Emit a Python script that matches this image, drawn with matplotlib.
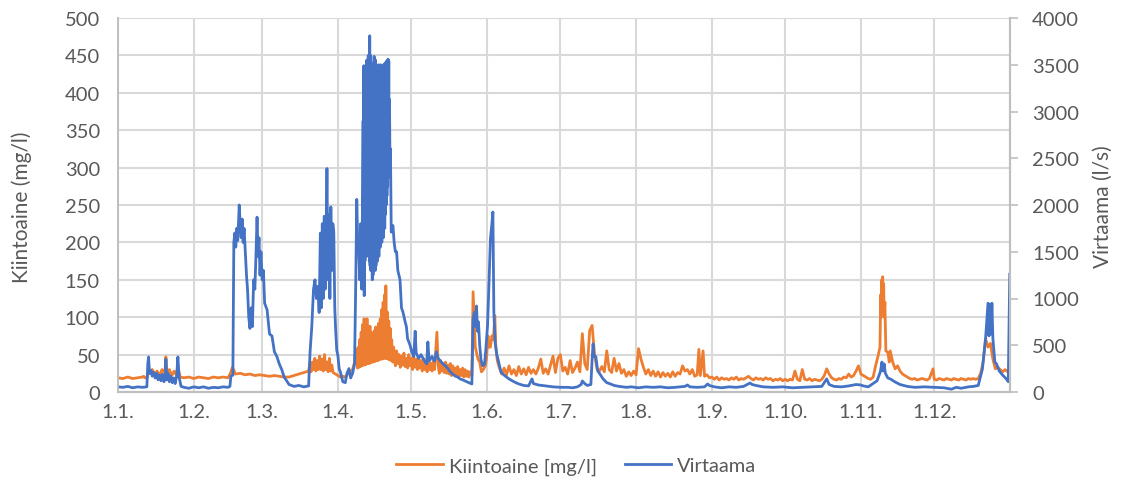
import matplotlib
matplotlib.use("Agg")
import matplotlib.pyplot as plt

# Day of year (0 = 1 January) at which each month starts, and its axis label
month_start_day = [0, 31, 59, 90, 120, 151, 181, 212, 243, 273, 304, 334]
month_labels = ['1.1.', '1.2.', '1.3.', '1.4.', '1.5.', '1.6.',
                '1.7.', '1.8.', '1.9.', '1.10.', '1.11.', '1.12.']

# Flow (l/s) as (day of year, value)
virtaama = [
    (0, 55), (2, 50), (4, 60), (6, 45), (8, 55), (10, 50), (11.8, 55),
    (12.2, 300), (12.5, 375), (12.9, 200), (13.5, 230), (14, 170), (14.6, 210),
    (15.2, 150), (15.8, 200), (16.4, 130), (17, 180), (17.6, 120), (18.2, 190),
    (18.8, 110), (19.4, 150), (19.6, 350), (19.9, 130), (20.5, 200), (21, 110),
    (21.6, 170), (22.2, 100), (22.8, 150), (23.4, 90), (24, 170), (24.5, 375),
    (25, 160), (25.8, 60), (27, 50), (29, 40), (31, 55), (33, 45), (35, 55),
    (37, 40), (39, 50), (41, 45), (43, 55), (45, 50), (45.8, 60), (46.2, 170),
    (47, 180), (47.4, 1600), (47.8, 1700), (48.2, 1550), (48.6, 1750), (49, 1620),
    (49.6, 2000), (50, 1800), (50.4, 1650), (50.8, 1850), (51.2, 1600),
    (51.6, 1750), (52, 1550), (52.6, 1240), (53, 1100), (53.5, 800), (54, 680),
    (54.5, 900), (55, 700), (55.5, 1200), (56, 1100), (56.5, 1500), (56.9, 1870),
    (57.3, 1450), (57.7, 1650), (58.1, 1250), (58.5, 1500), (59, 1200),
    (59.5, 1300), (60, 950), (61, 880), (62, 620), (63, 600), (64, 430),
    (65, 380), (66, 300), (67, 240), (68, 160), (69, 120), (70, 80), (72, 60),
    (74, 70), (76, 55), (78, 65), (78.6, 430), (79.3, 700), (80, 1100),
    (80.6, 1200), (81.2, 1000), (81.8, 1130), (82.3, 850), (82.8, 1700),
    (83.2, 900), (83.6, 1800), (84, 1000), (84.4, 1880), (84.8, 1100),
    (85.2, 1700), (85.5, 2390), (85.9, 1200), (86.3, 1900), (86.7, 1000),
    (87.1, 1980), (87.5, 1300), (87.9, 1800), (88.3, 1710), (88.7, 900),
    (89, 700), (89.5, 450), (90, 385), (90.5, 250), (91, 214), (92, 110),
    (93, 100), (93.7, 200), (94.5, 250), (95.2, 150), (96, 200), (96.8, 300),
    (97.3, 1200), (97.7, 2060), (98.1, 1600), (98.5, 1530), (98.9, 1200),
    (99.3, 1800), (99.7, 1100), (100.1, 2200),
    (100.3, 2900), (100.45, 1100), (100.6, 3490), (100.75, 1030), (100.9, 3200),
    (101.05, 1400), (101.2, 3400), (101.35, 1500), (101.5, 3300), (101.65, 1450),
    (101.8, 3550), (101.95, 1600), (102.1, 3350), (102.25, 1500), (102.4, 3600),
    (102.55, 1700), (102.7, 3500), (102.85, 1400), (103.0, 3810), (103.15, 1350),
    (103.3, 3600), (103.45, 1300), (103.6, 3500), (103.75, 1500), (103.9, 3450),
    (104.05, 1200), (104.2, 3400), (104.35, 1250), (104.5, 3520), (104.65, 1400),
    (104.8, 3590), (104.95, 1450), (105.1, 3480), (105.25, 1300), (105.4, 3550),
    (105.55, 1350), (105.7, 3400), (105.85, 1500), (106.0, 3350), (106.15, 1400),
    (106.3, 3450), (106.45, 1550), (106.6, 3500), (106.75, 1450), (106.9, 3420),
    (107.05, 1600), (107.2, 3480), (107.35, 1550), (107.5, 3500), (107.65, 1650),
    (107.8, 3450), (107.95, 1600), (108.1, 3420), (108.25, 1700), (108.4, 3480),
    (108.55, 1650), (108.7, 3500), (108.85, 1800), (109.0, 3480), (109.15, 1750),
    (109.3, 3520), (109.45, 1900), (109.6, 3500), (109.75, 2000), (109.9, 3540),
    (110.05, 2100), (110.2, 3500), (110.35, 2200), (110.5, 3560), (110.65, 2310),
    (110.8, 3540), (110.95, 2300), (111.1, 3130), (111.3, 2400), (111.5, 2600),
    (111.8, 1710), (112.5, 1780), (113, 1600), (113.5, 1500), (114, 1500),
    (114.5, 1300), (115.4, 1200), (116, 900), (116.6, 855), (117.5, 750),
    (118, 700), (118.5, 570), (119.5, 500), (120.2, 430), (121, 380), (121.6, 650),
    (122, 420), (123, 360), (124, 400), (125, 350), (126.3, 300), (126.8, 535),
    (127.3, 330), (128.5, 380), (129.5, 330), (130.3, 430), (131, 360),
    (132, 330), (133, 300), (134, 280), (135, 250), (136, 214), (137, 190),
    (138, 170), (139, 160), (140, 140), (141, 130), (142, 118), (143, 105),
    (144, 95), (144.8, 86), (145.3, 780), (145.8, 850), (146.2, 700),
    (146.7, 920), (147.1, 650), (147.5, 750), (148, 500), (148.5, 350),
    (149.2, 280), (150, 300), (150.5, 450), (151.2, 705), (151.6, 1000),
    (152.4, 1640), (153, 1800), (153.4, 1925), (153.8, 855), (154.3, 535),
    (155, 400), (155.5, 350), (156.7, 214), (158, 180), (160, 140), (162, 110),
    (164, 86), (166, 70), (168, 65), (169.4, 140), (170, 90), (172, 75),
    (175, 65), (178, 55), (181, 50), (184, 50), (186, 45), (188, 55),
    (189.5, 80), (190, 118), (191, 90), (192, 70), (193.5, 80), (194, 350),
    (194.4, 515), (194.8, 380), (195.5, 380), (196.3, 225), (197, 200),
    (198.5, 140), (200, 100), (201.5, 86), (203, 70), (205, 60), (208, 50),
    (210, 55), (213, 45), (216, 55), (219, 50), (222, 55), (225, 45), (228, 50),
    (230, 55), (232, 60), (233, 75), (234, 55), (237, 50), (240, 55),
    (241.3, 86), (242, 70), (244, 55), (247, 45), (250, 55), (253, 50),
    (256, 60), (258.6, 96), (259.5, 80), (261, 70), (264, 55), (268, 50),
    (272, 55), (276, 45), (280, 50), (284, 55), (288, 60), (290, 140), (291, 80),
    (293, 60), (296, 55), (299, 65), (302, 80), (304, 75), (305, 65), (307, 55),
    (310.6, 120), (312, 220), (312.6, 320), (313, 225), (313.5, 300), (314, 200),
    (315, 150), (316, 140), (318, 107), (320, 80), (323, 60), (326, 50),
    (330, 55), (334, 50), (338, 45), (341, 30), (343, 50), (345, 40), (348, 55),
    (350, 60), (352, 70), (353.7, 245), (355, 570), (356, 950), (356.4, 600),
    (356.8, 940), (357.2, 620), (357.6, 950), (358, 570), (358.8, 320),
    (359.5, 300), (360.6, 225), (362, 180), (363.5, 140), (364.3, 110),
    (364.9, 1260),
]

# Suspended solids (mg/l) as (day of year, value)
kiintoaine = [
    (0, 19), (2, 18), (4, 20), (6, 18), (8, 19), (10, 20), (10.5, 21), (11, 19),
    (12, 20), (12.5, 28), (13, 25), (14, 30), (15, 24), (16, 28), (17, 22),
    (18, 30), (19.2, 25), (19.6, 47), (20, 25), (21, 30), (22, 22), (23, 28),
    (24, 22), (24.5, 32), (25.5, 20), (27, 19), (29, 20), (31, 18), (33, 20),
    (35, 19), (37, 18), (39, 20), (41, 19), (43, 20), (45, 19), (46, 25),
    (46.8, 33), (47.3, 30), (48, 24), (50, 25), (52, 23), (54, 24), (56, 22),
    (58, 23), (60, 22), (62, 21), (64, 22), (66, 21), (68, 20), (70, 20),
    (72, 22), (74, 24), (76, 26), (78, 28), (78.5, 38), (79, 27), (79.5, 40),
    (80, 30), (80.5, 45), (81, 28), (81.5, 42), (82, 30), (82.5, 48), (83, 30),
    (83.5, 44), (84, 28), (84.5, 50), (85, 30), (85.5, 40), (86, 27),
    (86.5, 45), (87, 28), (87.5, 36), (88, 26), (89, 24), (90, 22), (91, 20),
    (92, 21), (93, 20), (94, 24), (95, 27), (96, 30), (96.8, 40), (97.3, 57),
    (97.7, 40), (98, 32), (98.3, 60), (98.6, 33), (98.9, 70), (99.2, 34),
    (99.5, 80), (99.8, 35), (100.1, 90), (100.4, 36), (100.7, 98), (101, 36),
    (101.3, 92), (101.6, 37), (101.9, 98), (102.2, 38), (102.5, 85), (102.8, 38),
    (103.1, 88), (103.4, 39), (103.7, 80), (104, 40), (104.3, 75), (104.6, 40),
    (104.9, 82), (105.2, 41), (105.5, 87), (105.8, 42), (106.1, 85), (106.4, 42),
    (106.7, 92), (107, 43), (107.3, 98), (107.6, 44), (107.9, 110), (108.2, 44),
    (108.5, 120), (108.8, 45), (109.1, 130), (109.4, 45), (109.6, 142),
    (109.9, 45), (110.2, 107), (110.5, 44), (110.8, 95), (111.1, 43), (111.4, 85),
    (111.7, 42), (112, 70), (112.4, 40), (112.8, 60), (113, 50), (113.5, 35),
    (114, 55), (114.5, 38), (115, 50), (115.5, 33), (116, 48), (116.5, 36),
    (117, 52), (117.5, 34), (118, 45), (118.5, 32), (119, 50), (119.5, 35),
    (120, 45), (120.5, 30), (121, 48), (121.5, 33), (122, 44), (122.5, 30),
    (123, 46), (123.5, 32), (124, 42), (124.5, 28), (125, 45), (125.5, 30),
    (126, 40), (126.5, 27), (127, 44), (127.5, 30), (128, 38), (128.5, 28),
    (129, 42), (129.5, 30), (130.5, 80), (131, 35), (131.5, 25), (132, 42),
    (132.5, 28), (133, 38), (133.5, 26), (134, 40), (134.5, 25), (135, 36),
    (135.5, 24), (136, 38), (136.5, 22), (137, 35), (137.5, 24), (138, 32),
    (138.5, 22), (139, 34), (139.5, 21), (140, 30), (140.5, 22), (141, 32),
    (141.5, 20), (142, 30), (142.5, 21), (143, 28), (143.5, 20), (144, 27),
    (144.8, 22), (145.3, 134), (145.7, 100), (146.2, 60), (146.7, 53),
    (147.3, 44), (148, 40), (148.7, 27), (149.5, 30), (150.3, 35), (150.8, 45),
    (151.4, 75), (151.8, 60), (152.4, 60), (153, 75), (153.6, 70), (154.2, 102),
    (154.6, 60), (155.2, 42), (156, 33), (157, 24), (158, 32), (159, 23),
    (160, 35), (161, 24), (162, 30), (163, 22), (164, 34), (165, 24), (166, 31),
    (167, 23), (168, 33), (169, 25), (170, 30), (171, 24), (172, 32), (173, 44),
    (174, 25), (175, 31), (176, 24), (177, 36), (178, 48), (179, 26), (180, 45),
    (181, 50), (182, 28), (183, 33), (184, 24), (185, 42), (186, 26), (187, 32),
    (188, 40), (189, 27), (190, 78), (191, 38), (192, 30), (193, 82), (194, 89),
    (195, 50), (196, 31), (197, 28), (198, 34), (199, 27), (200, 55), (201, 30),
    (202, 26), (203, 45), (204, 28), (205, 38), (206, 25), (207, 30), (208, 21),
    (209, 27), (210, 22), (211, 28), (212, 23), (213, 58), (214, 44), (215, 33),
    (216, 24), (217, 30), (218, 22), (219, 28), (220, 21), (221, 27), (222, 20),
    (223, 26), (224, 21), (225, 25), (226, 20), (227, 27), (228, 21), (229, 26),
    (230, 24), (231, 35), (232, 28), (233, 30), (234, 24), (235, 30), (236, 21),
    (237, 23), (237.7, 57), (238.3, 22), (239.4, 55), (240, 21), (241, 23),
    (242, 19), (243, 20), (244, 17), (245, 20), (246, 16), (247, 19), (248, 17),
    (249, 18), (250, 16), (251, 19), (252, 17), (253, 20), (254, 16), (255, 18),
    (256, 17), (257, 19), (258, 21), (259, 18), (260, 16), (261, 19), (262, 17),
    (263, 18), (264, 16), (265, 19), (266, 17), (267, 18), (268, 15), (269, 17),
    (270, 16), (271, 18), (272, 15), (273, 17), (274, 15), (275, 17), (276, 16),
    (277, 28), (278, 17), (279, 15), (280, 30), (281, 17), (282, 16), (283, 18),
    (284, 15), (285, 17), (286, 16), (287, 15), (288, 17), (289, 22), (290, 31),
    (291, 24), (292, 19), (293, 17), (294, 16), (295, 18), (296, 17), (297, 20),
    (298, 19), (299, 24), (300, 20), (301, 22), (302, 28), (303, 35), (304, 24),
    (305, 22), (306, 20), (307, 18), (308, 17), (309, 20), (310, 35), (311, 48),
    (311.8, 60), (312.1, 130), (312.3, 100), (312.5, 150), (312.7, 105),
    (312.9, 154), (313.1, 110), (313.3, 145), (313.5, 100), (313.8, 120),
    (314.2, 55), (315, 53), (315.6, 40), (316, 55), (317, 40), (318, 31),
    (319, 35), (320, 28), (321, 24), (322, 22), (323, 20), (324, 18), (325, 17),
    (326, 18), (327, 16), (328, 17), (329, 18), (330, 17), (331, 16), (332, 18),
    (333.5, 31), (334, 17), (335, 16), (336, 18), (337, 17), (338, 16),
    (339, 18), (340, 17), (341, 16), (342, 18), (343, 17), (344, 16), (345, 18),
    (346, 17), (347, 16), (348, 18), (349, 17), (350, 18), (351, 17), (352, 18),
    (353, 25), (354, 40), (355, 71), (356, 60), (357, 65), (358, 44), (359, 31),
    (360, 33), (361, 30), (362, 27), (363, 30), (364, 27), (364.9, 30),
]

ORANGE = '#ED7D31'
BLUE = '#4472C4'
TEXT = '#595959'
GRID = '#d9d9d9'
SPINE = '#bfbfbf'

plt.rcParams['font.family'] = ['Lato', 'DejaVu Sans']

k_day, k_val = zip(*kiintoaine)
v_day, v_val = zip(*virtaama)

fig = plt.figure(figsize=(11.46, 4.81), dpi=100)
ax = fig.add_axes([118 / 1146, 1 - 393 / 481, (1010 - 118) / 1146, (393 - 19) / 481])
ax2 = ax.twinx()

line_k, = ax.plot(k_day, k_val, color=ORANGE, lw=2.0, label='Kiintoaine [mg/l]')
line_v, = ax2.plot(v_day, v_val, color=BLUE, lw=2.0, label='Virtaama')

ax.set_xlim(0, 365)
ax.set_ylim(0, 500)
ax2.set_ylim(0, 4000)
ax.set_yticks(range(0, 501, 50))
ax2.set_yticks(range(0, 4001, 500))
ax.set_xticks(month_start_day)
ax.set_xticklabels(month_labels)

ax.set_axisbelow(True)
ax.grid(True, color=GRID, lw=1.5)

for a in (ax, ax2):
    a.spines['top'].set_visible(False)
    a.spines['left'].set_color(SPINE)
    a.spines['right'].set_color(SPINE)
    a.spines['bottom'].set_color(SPINE)
    a.spines['bottom'].set_linewidth(1.5)
    a.spines['right'].set_linewidth(1.5)
    a.spines['left'].set_linewidth(1.2)

ax.tick_params(axis='y', length=0, pad=13, labelsize=14.5, labelcolor=TEXT)
ax.tick_params(axis='x', length=0, pad=8, labelsize=14.5, labelcolor=TEXT)
ax2.tick_params(axis='y', length=6, width=1.2, color=SPINE, pad=10,
                labelsize=14.5, labelcolor=TEXT)

fig.text(22 / 1146, 1 - 207 / 481, 'Kiintoaine (mg/l)', rotation=90,
         ha='center', va='center', fontsize=15, color=TEXT)
fig.text(1103 / 1146, 1 - 207 / 481, 'Virtaama (l/s)', rotation=90,
         ha='center', va='center', fontsize=15, color=TEXT)

fig.legend(handles=[line_k, line_v], loc='center', bbox_to_anchor=(0.503, 1 - 467 / 481),
           ncol=2, frameon=False, fontsize=14.5, labelcolor=TEXT,
           handlelength=2.3, columnspacing=1.4, handletextpad=0.3)

fig.savefig('out.png', dpi=100)
